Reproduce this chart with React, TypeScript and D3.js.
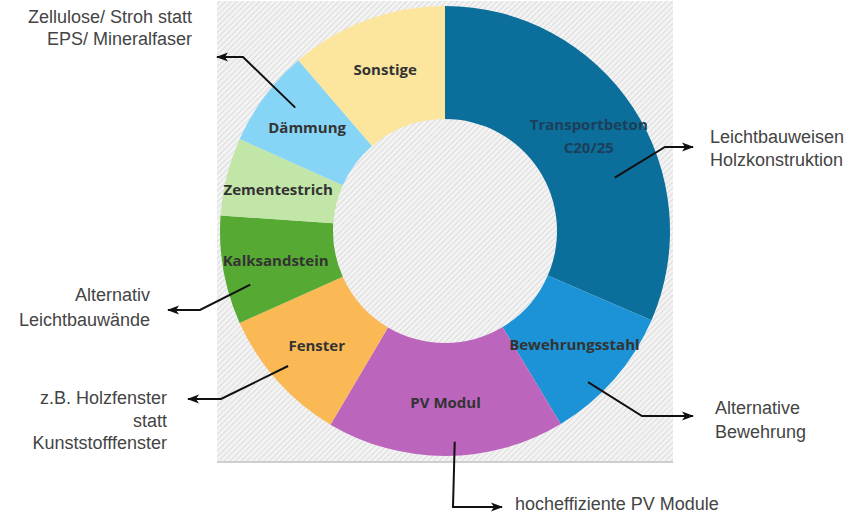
import { useEffect, useRef } from "react";
import * as d3 from "d3";

// Anteile am Treibhauspotenzial (geschätzt aus dem Bild, %)
const categories = [
    "Transportbeton C20/25",
    "Bewehrungsstahl",
    "PV Modul",
    "Fenster",
    "Kalksandstein",
    "Zementestrich",
    "Dämmung",
    "Sonstige",
];
const labelLines = [
    ["Transportbeton", "C20/25"],
    ["Bewehrungsstahl"],
    ["PV Modul"],
    ["Fenster"],
    ["Kalksandstein"],
    ["Zementestrich"],
    ["Dämmung"],
    ["Sonstige"],
];
const shares = [31.5, 9.9, 17.1, 9.8, 7.8, 5.6, 7.0, 11.3];
const colors = [
    "#0b6e9b",
    "#1b93d6",
    "#bc65bd",
    "#fbb955",
    "#56aa33",
    "#c2e5a8",
    "#86d5f7",
    "#fce59c",
];

// Hinweise: Kategorie und Text
const noteCategories = [
    "Dämmung",
    "Transportbeton C20/25",
    "Kalksandstein",
    "Fenster",
    "Bewehrungsstahl",
    "PV Modul",
];
const noteTexts = [
    ["Zellulose/ Stroh statt", "EPS/ Mineralfaser"],
    ["Leichtbauweisen", "Holzkonstruktion"],
    ["Alternativ", "Leichtbauwände"],
    ["z.B. Holzfenster", "statt", "Kunststofffenster"],
    ["Alternative", "Bewehrung"],
    ["hocheffiziente PV Module"],
];

// Layout der Pfeile (Position im Segment, Knick, Spitze, Textblock)
const noteLayout = [
    { t: 0.61, r: 194, elbow: [243, 57], tip: [217, 57], tx: 192, ty: 23, anchor: "end", lh: 22 },
    { t: 0.64, r: 178, elbow: [665, 147], tip: [693, 147], tx: 710, ty: 143, anchor: "start", lh: 23 },
    { t: 0.31, r: 202, elbow: [200, 310], tip: [168, 310], tx: 150, ty: 301, anchor: "end", lh: 25 },
    { t: 0.53, r: 207, elbow: [221, 399], tip: [188, 399], tx: 167, ty: 404, anchor: "end", lh: 22.5 },
    { t: 0.65, r: 208, elbow: [642, 416], tip: [693, 416], tx: 715, ty: 414, anchor: "start", lh: 24 },
    { t: 0.46, r: 211, elbow: [453, 507], tip: [502, 507], tx: 515, ty: 510, anchor: "start", lh: 22 },
];

export default function App() {
    const svgRef = useRef<SVGSVGElement | null>(null);

    useEffect(() => {
        const width = 854;
        const height = 518;
        const cx = 445;
        const cy = 231;
        const outerR = 225;
        const innerR = 112;

        const svg = d3.select(svgRef.current);
        svg.selectAll("*").remove();
        svg.attr("viewBox", `0 0 ${width} ${height}`)
            .attr("width", width)
            .attr("height", height);

        const defs = svg.append("defs");
        const pattern = defs
            .append("pattern")
            .attr("id", "hatch")
            .attr("patternUnits", "userSpaceOnUse")
            .attr("width", 4)
            .attr("height", 4)
            .attr("patternTransform", "rotate(45)");
        pattern
            .append("rect")
            .attr("width", 4)
            .attr("height", 4)
            .attr("fill", "#f3f3f3");
        pattern
            .append("line")
            .attr("x1", 0)
            .attr("y1", 0)
            .attr("x2", 0)
            .attr("y2", 4)
            .attr("stroke", "#d6d6d6")
            .attr("stroke-width", 1.6);

        defs.append("marker")
            .attr("id", "arrow")
            .attr("viewBox", "0 0 12 10")
            .attr("refX", 11)
            .attr("refY", 5)
            .attr("markerWidth", 13)
            .attr("markerHeight", 10)
            .attr("markerUnits", "userSpaceOnUse")
            .attr("orient", "auto")
            .append("path")
            .attr("d", "M0,0.5 L12,5 L0,9.5 L3,5 Z")
            .attr("fill", "#111");

        svg.append("rect")
            .attr("x", 217)
            .attr("y", 1)
            .attr("width", 456)
            .attr("height", 461)
            .attr("fill", "url(#hatch)");
        svg.append("line")
            .attr("x1", 217)
            .attr("x2", 673)
            .attr("y1", 462)
            .attr("y2", 462)
            .attr("stroke", "#cfcfcf")
            .attr("stroke-width", 2);

        const pie = d3
            .pie<number>()
            .sort(null)
            .value((d) => d);
        const arcs = pie(shares);

        const arc = d3
            .arc<d3.PieArcDatum<number>>()
            .innerRadius(innerR)
            .outerRadius(outerR);
        const labelArc = d3
            .arc<d3.PieArcDatum<number>>()
            .innerRadius(172)
            .outerRadius(172);

        const g = svg
            .append("g")
            .attr("transform", `translate(${cx}, ${cy})`);

        g.selectAll(".slice")
            .data(arcs)
            .join("path")
            .attr("class", "slice")
            .attr("d", arc)
            .attr("fill", (_, i) => colors[i]);

        const labels = g
            .selectAll(".slice-label")
            .data(arcs)
            .join("text")
            .attr("class", "slice-label")
            .attr("text-anchor", "middle")
            .attr("font-family", "'Open Sans', sans-serif")
            .attr("font-weight", 700)
            .attr("font-size", 15)
            .attr("fill", (_, i) => (i === 0 ? "#1d3f58" : "#333333"))
            .attr("transform", (d) => {
                const [x, y] = labelArc.centroid(d);
                return `translate(${x}, ${y})`;
            });
        labels.each(function (_, i) {
            const lines = labelLines[i];
            const start = -((lines.length - 1) * 23) / 2;
            d3.select(this)
                .selectAll("tspan")
                .data(lines)
                .join("tspan")
                .attr("x", 0)
                .attr("y", (_, j) => start + j * 23)
                .attr("dy", "0.35em")
                .text((line) => line);
        });

        // Hinweispfeile
        const notes = svg.append("g");
        noteCategories.forEach((name, i) => {
            const d = arcs[categories.indexOf(name)];
            const lay = noteLayout[i];
            const a = d.startAngle + lay.t * (d.endAngle - d.startAngle);
            const start: [number, number] = [
                cx + lay.r * Math.sin(a),
                cy - lay.r * Math.cos(a),
            ];
            const points: [number, number][] = [
                start,
                lay.elbow as [number, number],
                lay.tip as [number, number],
            ];
            notes
                .append("path")
                .attr("d", d3.line()(points))
                .attr("fill", "none")
                .attr("stroke", "#111")
                .attr("stroke-width", 2)
                .attr("marker-end", "url(#arrow)");

            const text = notes
                .append("text")
                .attr("text-anchor", lay.anchor)
                .attr("font-family", "'Liberation Sans', Arial, sans-serif")
                .attr("font-size", 18)
                .attr("fill", "#444444");
            text.selectAll("tspan")
                .data(noteTexts[i])
                .join("tspan")
                .attr("x", lay.tx)
                .attr("y", (_, j) => lay.ty + j * lay.lh)
                .text((line) => line);
        });
    }, []);

    return (
        <svg
            ref={svgRef}
            style={{ position: "fixed", left: 0, top: 0, background: "#ffffff" }}
        />
    );
}
